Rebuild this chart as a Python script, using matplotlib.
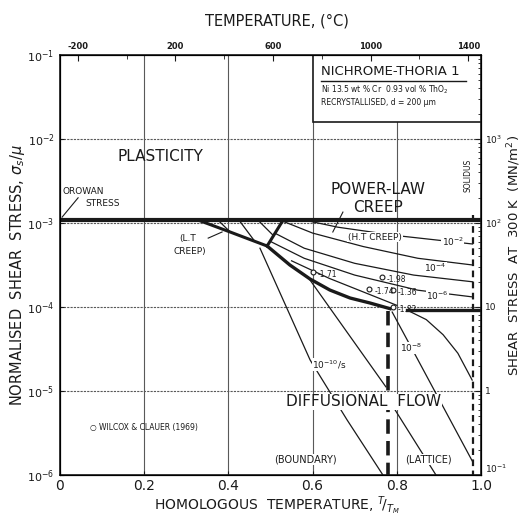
import numpy as np
import matplotlib
matplotlib.use("Agg")
import matplotlib.pyplot as plt

# ---------------- data (x = T/TM, y = log10 normalised shear stress) -------------
TM = 1725.0  # melting temperature, K
top_ticks_major = [-200, 200, 600, 1000, 1400]
top_ticks_minor = [0, 400, 800, 1200]
x_ticks = [0, 0.2, 0.4, 0.6, 0.8, 1.0]
x_tick_labels = ["0", "0.2", "0.4", "0.6", "0.8", "1.0"]
y_decades = [-6, -5, -4, -3, -2, -1]
shear_modulus_MN = 1e5  # stress at 300 K = sigma/mu * mu

orowan_stress = -2.965
lt_lower_x = [0.328, 0.404, 0.492]
lt_lower_y = [-2.965, -3.107, -3.274]
lt_upper_x = [0.492, 0.530]
lt_upper_y = [-3.274, -2.965]
pl_diff_x = [0.492, 0.546, 0.594, 0.641, 0.689, 0.736, 0.784]
pl_diff_y = [-3.274, -3.50, -3.667, -3.798, -3.893, -3.952, -4.02]
ht_x = [0.824, 1.0]
ht_y = [-4.036, -4.036]
gb_lattice_x = 0.78
gb_lattice_y = [-4.05, -6.0]
solidus_x = 0.98
solidus_y = [-2.9, -6.0]

# strain-rate contours (thin lines)
contours = [
    # low-temperature creep field
    ([0.375, 0.405], [-2.965, -3.11]),
    ([0.425, 0.46], [-2.965, -3.20]),
    ([0.47, 0.505], [-2.965, -3.14]),
    # power-law creep field
    ([0.58, 0.66, 0.80, 0.98], [-2.965, -3.05, -3.15, -3.25]),
    ([0.53, 0.60, 0.72, 0.85, 0.98], [-2.98, -3.12, -3.28, -3.42, -3.50]),
    ([0.51, 0.58, 0.70, 0.84, 0.98], [-3.12, -3.30, -3.48, -3.62, -3.70]),
    ([0.50, 0.58, 0.70, 0.85, 0.98], [-3.22, -3.42, -3.62, -3.80, -3.88]),
    ([0.55, 0.64, 0.74, 0.80], [-3.45, -3.66, -3.86, -3.98]),
    # diffusional field
    ([0.475, 0.594, 0.682, 0.767], [-3.30, -4.63, -5.345, -6.0]),
    ([0.594, 0.774], [-3.68, -4.95]),
    ([0.789, 0.893], [-5.17, -6.0]),
    ([0.789, 0.831, 0.981], [-4.06, -4.45, -5.85]),
    ([0.824, 0.87, 0.91, 0.945, 0.979], [-4.036, -4.15, -4.33, -4.55, -4.87]),
]
rate_labels = [
    (0.933, -3.226, r"$10^{-2}$"),
    (0.891, -3.536, r"$10^{-4}$"),
    (0.896, -3.869, r"$10^{-6}$"),
    (0.835, -4.488, r"$10^{-8}$"),
    (0.64, -4.69, r"$10^{-10}$/s"),
]
data_x = [0.60, 0.735, 0.765, 0.79, 0.79]
data_y = [-3.58, -3.78, -3.64, -3.80, -4.00]
data_labels = ["-1.71", "-1.74", "-1.98", "-1.36", "-1.82"]

# ---------------- figure ----------------
fig = plt.figure(figsize=(5.23, 5.17), dpi=100)
ax = fig.add_axes([60/523, 42/517, 421/523, 420/517])
ax.set_xlim(0, 1)
ax.set_ylim(-6, -1)

ink = "#1a1a1a"
for x in [0.2, 0.4, 0.6, 0.8]:
    ax.axvline(x, color="0.35", lw=0.8, zorder=1)
for y in [-5, -4, -3, -2]:
    ax.axhline(y, color="0.35", lw=0.8, ls=(0, (2, 1)), zorder=1)

# thick boundaries
ax.plot([0, 1], [orowan_stress, orowan_stress], color=ink, lw=3.0, zorder=3)
ax.plot(lt_lower_x, lt_lower_y, color=ink, lw=2.2, zorder=3)
ax.plot(lt_upper_x, lt_upper_y, color=ink, lw=2.2, zorder=3)
ax.plot(pl_diff_x, pl_diff_y, color=ink, lw=2.4, zorder=3)
ax.plot(ht_x, ht_y, color=ink, lw=2.4, zorder=3)
ax.plot([gb_lattice_x]*2, gb_lattice_y, color=ink, lw=2.6, ls=(0, (4, 2)), zorder=3)
ax.plot([solidus_x]*2, solidus_y, color=ink, lw=1.6, ls=(0, (3, 2)), zorder=3)

for cx, cy in contours:
    ax.plot(cx, cy, color=ink, lw=0.9, zorder=2)

for x, y, s in rate_labels:
    ax.text(x, y, s, fontsize=6.5, ha="center", va="center", color=ink, zorder=4,
            bbox=dict(fc="white", ec="none", pad=0.2))

ax.plot(data_x, data_y, "o", mfc="white", mec=ink, ms=3.5, mew=0.8, zorder=5)
for x, y, s in zip(data_x, data_y, data_labels):
    ax.text(x + 0.012, y - 0.03, s, fontsize=5.5, ha="left", va="center", color=ink, zorder=5)

# region labels
ax.text(0.2375, -2.214, "PLASTICITY", fontsize=11, ha="center", va="center", color=ink)
ax.text(0.007, -2.63, "OROWAN", fontsize=6.5, ha="left", va="center", color=ink)
ax.text(0.102, -2.762, "STRESS", fontsize=6.5, ha="center", va="center", color=ink)
ax.plot([0.043, 0.005], [-2.70, -2.93], color=ink, lw=0.8)
ax.text(0.304, -3.18, "(L.T", fontsize=6.5, ha="center", va="center", color=ink)
ax.text(0.309, -3.345, "CREEP)", fontsize=6.5, ha="center", va="center", color=ink)
ax.plot([0.352, 0.385], [-3.18, -3.107], color=ink, lw=0.8)
ax.text(0.755, -2.607, "POWER-LAW", fontsize=11, ha="center", va="center", color=ink)
ax.text(0.755, -2.81, "CREEP", fontsize=11, ha="center", va="center", color=ink)
ax.plot([0.672, 0.648], [-2.87, -3.107], color=ink, lw=0.8)
ax.text(0.748, -3.167, "(H.T CREEP)", fontsize=6.5, ha="center", va="center", color=ink,
        bbox=dict(fc="white", ec="none", pad=0.5))
ax.text(0.722, -5.13, "DIFFUSIONAL  FLOW", fontsize=11, ha="center", va="center", color=ink,
        bbox=dict(fc="white", ec="none", pad=0.5), zorder=4)
ax.text(0.584, -5.82, "(BOUNDARY)", fontsize=7, ha="center", va="center", color=ink,
        bbox=dict(fc="white", ec="none", pad=0.3), zorder=4)
ax.text(0.874, -5.82, "(LATTICE)", fontsize=7, ha="center", va="center", color=ink,
        bbox=dict(fc="white", ec="none", pad=0.3), zorder=4)
ax.text(0.071, -5.44, "○ WILCOX & CLAUER (1969)", fontsize=5.5, ha="left", va="center", color=ink)
ax.text(0.969, -2.43, "SOLIDUS", fontsize=5.5, rotation=90, ha="center", va="center", color=ink)

# material box
ax.add_patch(plt.Rectangle((0.601, -1.0), 0.399, -(122-55)/84, fill=True, fc="white",
                           ec=ink, lw=1.2, zorder=6))
ax.text(0.62, -1.0-(72-55)/84, "NICHROME-THORIA 1", fontsize=9.5, ha="left", va="center",
        color=ink, zorder=7)
ax.plot([0.62, 0.965], [-1.0-(81-55)/84]*2, color=ink, lw=1.0, zorder=7)
ax.text(0.62, -1.0-(90-55)/84, r"Ni 13.5 wt % Cr  0.93 vol % ThO$_2$", fontsize=5.5, ha="left",
        va="center", color=ink, zorder=7)
ax.text(0.62, -1.0-(103-55)/84, "RECRYSTALLISED, d = 200 µm", fontsize=5.5, ha="left",
        va="center", color=ink, zorder=7)

# axes formatting
for sp in ax.spines.values():
    sp.set_linewidth(1.2)
    sp.set_color(ink)
ax.set_xticks(x_ticks)
ax.set_xticklabels(x_tick_labels, fontsize=10)
ax.set_yticks(y_decades)
ax.set_yticklabels([r"$10^{%d}$" % d for d in y_decades], fontsize=8)
ax.tick_params(direction="in", length=3, colors=ink)
ax.tick_params(axis="x", pad=3)
ax.tick_params(axis="y", pad=4)
fig.text(277/523, 1 - 506/517, r"HOMOLOGOUS  TEMPERATURE, $^{T}\!/_{T_M}$", fontsize=10,
         ha="center", va="center", color=ink)
fig.text(18/523, 1 - 275/517, r"NORMALISED  SHEAR  STRESS, $\sigma_s/\mu$", fontsize=10.5,
         rotation=90, ha="center", va="center", color=ink)

# top axis: temperature in C
axt = ax.twiny()
axt.set_xlim(0, 1)
axt.set_xticks([(t + 273) / TM for t in top_ticks_major])
axt.set_xticklabels([str(t) for t in top_ticks_major], fontsize=6, fontweight="bold")
axt.set_xticks([(t + 273) / TM for t in top_ticks_minor], minor=True)
axt.tick_params(direction="in", length=4, colors=ink, pad=3)
axt.tick_params(which="minor", direction="in", length=3, colors=ink)
fig.text(277/523, 1 - 21/517, "TEMPERATURE, (°C)", fontsize=10.5, ha="center", va="center",
         color=ink)

# right axis: stress at 300 K
axr = ax.twinx()
axr.set_ylim(-6 + np.log10(shear_modulus_MN), -1 + np.log10(shear_modulus_MN))
rt = [-1, 0, 1, 2, 3]
rl = [r"$10^{-1}$", "1", "10", r"$10^{2}$", r"$10^{3}$"]
axr.set_yticks(rt)
axr.set_yticklabels(rl, fontsize=6.5)
for lab in axr.get_yticklabels():
    if lab.get_text() == r"$10^{-1}$":
        lab.set_va("bottom")
minor = [d + np.log10(m) for d in range(-1, 4) for m in range(2, 10)]
axr.set_yticks([m for m in minor if m < 4], minor=True)
axr.tick_params(direction="in", length=4, colors=ink, pad=3)
axr.tick_params(which="minor", direction="in", length=2, colors=ink)
fig.text(514/523, 1 - 255/517, r"SHEAR  STRESS  AT  300 K  (MN/m$^2$)", fontsize=9.5,
         rotation=90, ha="center", va="center", color=ink)

fig.savefig("out.png", dpi=100)
